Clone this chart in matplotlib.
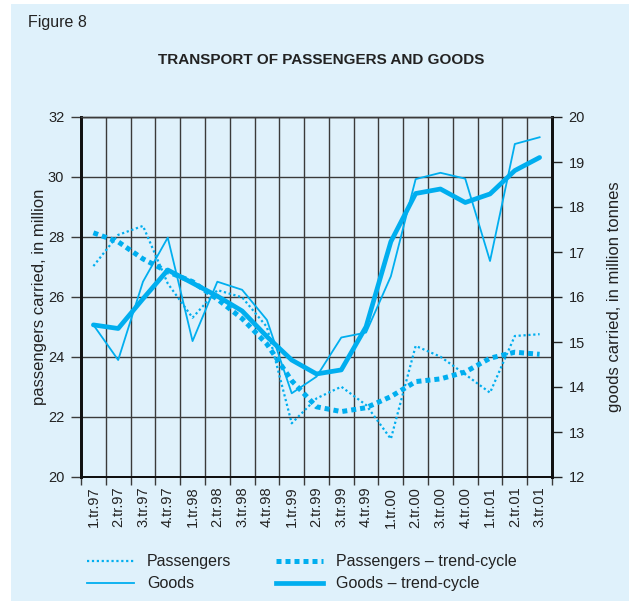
import matplotlib
matplotlib.use("Agg")
import matplotlib.pyplot as plt
from matplotlib.lines import Line2D
from matplotlib.patches import Rectangle
import numpy as np

plt.rcParams['font.family'] = ['Liberation Sans', 'DejaVu Sans']

quarters = ["1.tr.97", "2.tr.97", "3.tr.97", "4.tr.97",
            "1.tr.98", "2.tr.98", "3.tr.98", "4.tr.98",
            "1.tr.99", "2.tr.99", "3.tr.99", "4.tr.99",
            "1.tr.00", "2.tr.00", "3.tr.00", "4.tr.00",
            "1.tr.01", "2.tr.01", "3.tr.01"]

passengers = [27.03, 28.07, 28.37, 26.45, 25.31, 26.23, 25.99, 25.0,
              21.79, 22.62, 23.01, 22.4, 21.27, 24.37, 24.01, 23.42,
              22.81, 24.7, 24.76]
passengers_trend = [28.14, 27.84, 27.27, 26.84, 26.51, 25.93, 25.28, 24.43,
                    23.21, 22.34, 22.18, 22.31, 22.68, 23.18, 23.27, 23.5,
                    23.96, 24.16, 24.09]
goods = [15.38, 14.6, 16.34, 17.32, 15.02, 16.34, 16.16, 15.49,
         13.86, 14.23, 15.10, 15.21, 16.46, 18.62, 18.76, 18.63,
         16.8, 19.4, 19.55]
goods_trend = [15.38, 15.30, 15.96, 16.6, 16.31, 16.02, 15.69, 15.12,
               14.6, 14.29, 14.38, 15.34, 17.23, 18.30, 18.40, 18.10,
               18.29, 18.81, 19.10]

left_ticks = [20, 22, 24, 26, 28, 30, 32]
right_ticks = [12, 13, 14, 15, 16, 17, 18, 19, 20]

BG = '#DFF1FB'
LINE = '#00AEEF'
GRID = '#3a3a3a'
TXT = '#222222'

W, H = 629, 601
fig = plt.figure(figsize=(W / 100, H / 100), dpi=100)
fig.patch.set_facecolor('white')
fig.patches.append(Rectangle((11 / W, 0), 1 - 11 / W, 1 - 4 / H,
                             transform=fig.transFigure, facecolor=BG,
                             edgecolor='none', zorder=-10))

ax = fig.add_axes([81 / W, 1 - 477 / H, (552 - 81) / W, (477 - 117) / H])
ax.set_facecolor(BG)
ax2 = ax.twinx()
ax2.patch.set_visible(False)

x = np.arange(len(quarters))

ax.plot(x, passengers, color=LINE, lw=1.6, linestyle=(0, (1, 1.2)),
        zorder=3)
ax.plot(x, passengers_trend, color=LINE, lw=3.6, linestyle=(0, (1, 0.8)),
        zorder=3)
ax2.plot(x, goods, color=LINE, lw=1.3, zorder=3)
ax2.plot(x, goods_trend, color=LINE, lw=3.4, zorder=3,
         solid_capstyle='round', solid_joinstyle='round')

ax.set_xlim(-0.5, len(quarters) - 0.5)
ax.set_ylim(20, 32)
ax2.set_ylim(12, 20)

ax.set_xticks(x)
ax.set_xticklabels(quarters, rotation=90, fontsize=10.5, color=TXT)
ax.tick_params(axis='x', which='major', length=0, pad=7)
ax.set_xticks(np.arange(-0.5, len(quarters)), minor=True)
ax.tick_params(axis='x', which='minor', length=6, width=1, color=GRID,
               direction='out')

ax.set_yticks(left_ticks)
ax.tick_params(axis='y', length=7, width=1, direction='out', labelsize=10.5,
               pad=5, color=GRID, labelcolor=TXT)
ax2.set_yticks(right_ticks)
ax2.tick_params(axis='y', length=7, width=1, direction='out', labelsize=10.5,
                pad=5, color='#222222', labelcolor=TXT)

ax.grid(True, axis='y', color=GRID, lw=1)
ax.grid(True, axis='x', which='minor', color=GRID, lw=1)
ax.set_axisbelow(True)

for a in (ax, ax2):
    a.spines['top'].set_color(GRID)
    a.spines['top'].set_linewidth(1)
    a.spines['bottom'].set_color('#111111')
    a.spines['bottom'].set_linewidth(1.4)
    a.spines['left'].set_color('#111111')
    a.spines['left'].set_linewidth(2)
    a.spines['right'].set_color('#111111')
    a.spines['right'].set_linewidth(2)

ax.set_ylabel("passengers carried, in million", fontsize=12, color=TXT,
              va='center')
ax.yaxis.set_label_coords((40 - 81) / (552 - 81), 0.5)
ax2.set_ylabel("goods carried, in million tonnes", fontsize=12, labelpad=16,
               color=TXT)

fig.text(28 / W, 1 - 22 / H, "Figure 8", fontsize=11.5, va='center',
         ha='left', color=TXT)
fig.text(321 / W, 1 - 60 / H, "TRANSPORT OF PASSENGERS AND GOODS",
         fontsize=11, fontweight='bold', va='center', ha='center',
         color=TXT)

handles = [
    Line2D([], [], color=LINE, lw=1.6, linestyle=(0, (1, 1.2))),
    Line2D([], [], color=LINE, lw=1.3),
    Line2D([], [], color=LINE, lw=3.6, linestyle=(0, (1, 0.8))),
    Line2D([], [], color=LINE, lw=3.4),
]
labels = ["Passengers", "Goods", "Passengers \u2013 trend-cycle",
          "Goods \u2013 trend-cycle"]
leg = fig.legend(handles, labels, ncol=2, frameon=False, fontsize=11.5,
                 loc='upper left', bbox_to_anchor=(84 / W, 1 - 551 / H),
                 handlelength=2.95, handletextpad=0.8, columnspacing=2.8,
                 labelspacing=0.45, borderaxespad=0, borderpad=0.2)
for t in leg.get_texts():
    t.set_color(TXT)

fig.savefig("out.png", dpi=100, facecolor=fig.get_facecolor())
